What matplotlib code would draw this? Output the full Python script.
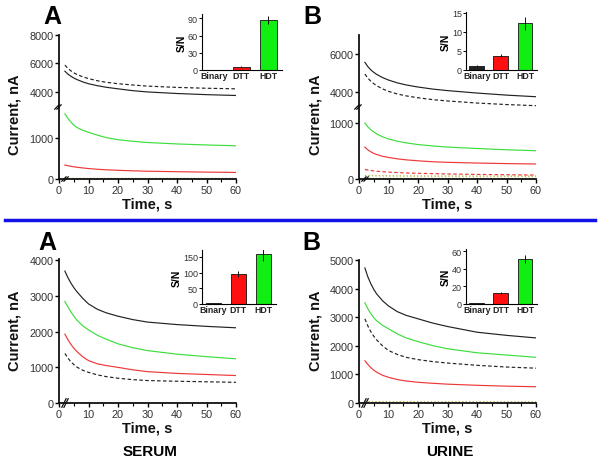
import numpy as np
import matplotlib.pyplot as plt
from matplotlib.lines import Line2D

plt.rcParams['font.family'] = ['Liberation Sans', 'DejaVu Sans']

# time axis (s)
t = [2, 3, 4, 5, 6, 8, 10, 13, 16, 20, 25, 30, 40, 50, 60]

# top A
ta_dash = [5880, 5650, 5480, 5340, 5230, 5060, 4930, 4780, 4670, 4570, 4480, 4400, 4310, 4250, 4210]
ta_black = [5450, 5250, 5100, 4970, 4870, 4700, 4570, 4430, 4320, 4210, 4080, 3990, 3880, 3800, 3740]
ta_green = [1590, 1480, 1390, 1317, 1260, 1190, 1139, 1070, 1010, 958, 920, 890, 855, 830, 810]
ta_red = [340, 325, 310, 298, 288, 270, 255, 238, 225, 212, 200, 190, 178, 168, 160]
ta_base = [15] * 15

# top B
tb_black = [5560, 5330, 5160, 5030, 4920, 4750, 4620, 4470, 4360, 4250, 4140, 4060, 3930, 3820, 3735]
tb_dash = [4940, 4720, 4560, 4430, 4320, 4150, 4020, 3880, 3780, 3680, 3580, 3510, 3400, 3320, 3260]
tb_green = [1000, 930, 880, 840, 805, 755, 715, 675, 645, 615, 590, 570, 545, 522, 505]
tb_red = [570, 520, 485, 458, 437, 405, 385, 360, 342, 325, 308, 298, 285, 275, 268]
tb_red_dash = [170, 160, 152, 145, 139, 130, 123, 115, 108, 102, 96, 90, 82, 76, 70]
tb_base = [60, 60, 59, 59, 58, 57, 56, 55, 54, 53, 52, 52, 51, 50, 50]

# serum
sa_black = [3700, 3520, 3370, 3240, 3130, 2940, 2780, 2630, 2530, 2435, 2340, 2270, 2200, 2150, 2110]
sa_green = [2850, 2700, 2560, 2440, 2330, 2170, 2050, 1900, 1790, 1660, 1550, 1470, 1370, 1300, 1240]
sa_red = [1930, 1780, 1650, 1540, 1450, 1300, 1190, 1100, 1050, 1000, 930, 880, 830, 800, 770]
sa_dash = [1390, 1260, 1160, 1080, 1010, 920, 860, 790, 740, 695, 655, 630, 610, 595, 580]
sa_base = [12] * 15

# urine
ub_black = [4730, 4420, 4180, 3980, 3820, 3580, 3400, 3200, 3070, 2950, 2800, 2680, 2480, 2370, 2280]
ub_green = [3510, 3300, 3130, 2990, 2880, 2720, 2600, 2420, 2280, 2150, 2010, 1900, 1760, 1680, 1600]
ub_dash = [2950, 2700, 2500, 2340, 2210, 2000, 1840, 1700, 1600, 1520, 1450, 1400, 1320, 1260, 1220]
ub_red = [1480, 1350, 1240, 1150, 1080, 970, 900, 820, 770, 726, 690, 660, 620, 590, 570]
ub_base = [45, 45, 44, 44, 43, 43, 42, 42, 41, 41, 40, 40, 40, 40, 40]

# insets (S/N)
groups = ['Binary', 'DTT', 'HDT']
sn_ta = [0.5, 6, 87]
sn_ta_err = [0.3, 1, 7]
sn_tb = [1.0, 3.8, 12.3]
sn_tb_err = [0.3, 0.5, 1.7]
sn_sa = [2, 95, 158]
sn_sa_err = [1, 10, 20]
sn_ub = [1, 12.5, 51]
sn_ub_err = [0.3, 1.5, 5]

BLACK = '#222222'
GREEN = '#3ddd3d'
RED = '#ee3838'
OLIVE = '#b8b040'
TXT = '#333333'
W, H = 600, 464
LW = 0.85


def fr(x0, y0, x1, y1):
    # pixel box -> figure fraction rect
    return [x0 / W, 1 - y1 / H, (x1 - x0) / W, (y1 - y0) / H]


def style(ax, xaxis=True):
    for s in ['top', 'right']:
        ax.spines[s].set_visible(False)
    for s in ['left', 'bottom']:
        ax.spines[s].set_linewidth(1.3)
        ax.spines[s].set_color('#111111')
    ax.tick_params(axis='y', direction='out', length=3, width=1, labelsize=7.8,
                   labelcolor=TXT, pad=1)
    ax.set_xlim(0, 60)
    if xaxis:
        ax.set_xticks(range(0, 61, 10))
        ax.set_xticks(range(5, 61, 10), minor=True)
        ax.tick_params(axis='x', which='major', direction='out', length=3, width=1,
                       labelsize=7.8, labelcolor=TXT, pad=1.5)
        ax.tick_params(axis='x', which='minor', direction='out', length=2, width=0.8)
    else:
        ax.spines['bottom'].set_visible(False)
        ax.set_xticks([])
    ax.patch.set_alpha(0)


def brk(ax, x, y):
    d = 0.012
    for dx in (-0.012, 0.0):
        ax.plot([x + dx - d, x + dx + d], [y - 0.03, y + 0.03], transform=ax.transAxes,
                color='#111111', lw=0.9, clip_on=False)


def inset(rect, vals, errs, ylim, ticks):
    ax = fig.add_axes(rect)
    x = np.arange(3)
    ax.bar(x, vals, width=0.62, color=[BLACK, '#ff1010', '#11ee11'],
           edgecolor='#111111', linewidth=0.6, yerr=errs,
           error_kw=dict(ecolor='#111111', elinewidth=0.7, capsize=0))
    for s in ['top', 'right']:
        ax.spines[s].set_visible(False)
    for s in ['left', 'bottom']:
        ax.spines[s].set_linewidth(0.8)
    ax.set_xlim(-0.45, 2.5)
    ax.set_ylim(*ylim)
    ax.set_yticks(ticks)
    ax.set_xticks(x)
    ax.set_xticklabels(groups, fontsize=6.3, fontweight='bold', color='#222222')
    ax.tick_params(axis='x', length=0, pad=1)
    ax.tick_params(axis='y', direction='out', length=2, width=0.7, labelsize=6.5,
                   labelcolor=TXT, pad=1)
    ax.set_ylabel('S/N', fontsize=7.5, fontweight='bold', labelpad=1)
    ax.patch.set_alpha(0)
    return ax


fig = plt.figure(figsize=(6, 4.64), dpi=100)

# ---- top A (broken axis) ----
axu = fig.add_axes(fr(59, 36, 236, 108))
axl = fig.add_axes(fr(59, 108, 236, 180))
axu.plot(t, ta_dash, color=BLACK, lw=LW, ls=(0, (3, 2)))
axu.plot(t, ta_black, color=BLACK, lw=LW)
axl.plot(t, ta_green, color=GREEN, lw=LW)
axl.plot(t, ta_red, color=RED, lw=LW)
axl.plot(t, ta_base, color=OLIVE, lw=1.0, ls=(0, (1, 1.5)))
axl.plot(t, [5] * len(t), color=BLACK, lw=0.8, ls=(0, (3, 2)))
axu.set_ylim(2930, 8000)
axu.set_yticks([4000, 6000, 8000])
axl.set_ylim(0, 1756)
axl.set_yticks([0, 1000])
style(axu, xaxis=False)
style(axl)
brk(axl, 0, 1.0)
brk(axl, 0.04, 0)

# ---- top B ----
bxu = fig.add_axes(fr(359, 36, 536, 108))
bxl = fig.add_axes(fr(359, 108, 536, 180))
bxu.plot(t, tb_black, color=BLACK, lw=LW)
bxu.plot(t, tb_dash, color=BLACK, lw=LW, ls=(0, (3, 2)))
bxl.plot(t, tb_green, color=GREEN, lw=LW)
bxl.plot(t, tb_red, color=RED, lw=LW)
bxl.plot(t, tb_red_dash, color=RED, lw=LW, ls=(0, (3, 2)))
bxl.plot(t, tb_base, color=OLIVE, lw=1.0, ls=(0, (1, 1.5)))
bxl.plot(t, [12] * len(t), color=GREEN, lw=1.0, ls=(0, (1, 1.5)))
bxu.set_ylim(3190, 7010)
bxu.set_yticks([4000, 6000])
bxl.set_ylim(0, 1286)
bxl.set_yticks([0, 1000])
style(bxu, xaxis=False)
style(bxl)
brk(bxl, 0, 1.0)
brk(bxl, 0.04, 0)

# ---- serum A ----
sx = fig.add_axes(fr(59, 260, 236, 404))
sx.plot(t, sa_black, color=BLACK, lw=LW)
sx.plot(t, sa_green, color=GREEN, lw=LW)
sx.plot(t, sa_red, color=RED, lw=LW)
sx.plot(t, sa_dash, color=BLACK, lw=LW, ls=(0, (3, 2)))
sx.plot(t, sa_base, color=GREEN, lw=1.0, ls=(0, (2, 1.5)))
sx.set_ylim(0, 4040)
sx.set_yticks(range(0, 4001, 1000))
style(sx)
brk(sx, 0.04, 0)

# ---- urine B ----
ux = fig.add_axes(fr(359, 261, 536, 404))
ux.plot(t, ub_black, color=BLACK, lw=LW)
ux.plot(t, ub_green, color=GREEN, lw=LW)
ux.plot(t, ub_dash, color=BLACK, lw=LW, ls=(0, (3, 2)))
ux.plot(t, ub_red, color=RED, lw=LW)
ux.plot(t, ub_base, color=OLIVE, lw=1.0, ls=(0, (1, 1.5)))
ux.plot(t, [12] * len(t), color=BLACK, lw=0.8, ls=(0, (3, 2)))
ux.set_ylim(0, 5010)
ux.set_yticks(range(0, 5001, 1000))
style(ux)
brk(ux, 0.04, 0)

# insets
inset(fr(202, 15, 282, 71), sn_ta, sn_ta_err, (0, 97.5), [0, 30, 60, 90])
inset(fr(466, 13, 537, 71), sn_tb, sn_tb_err, (0, 15.2), [0, 5, 10, 15])
inset(fr(202, 251, 276, 305), sn_sa, sn_sa_err, (0, 172), [0, 50, 100, 150])
inset(fr(466, 250, 537, 305), sn_ub, sn_ub_err, (0, 62.4), [0, 20, 40, 60])

# labels
lab = dict(fontsize=10.5, fontweight='bold', ha='center', va='center', color='#111111')
for x0, yc in [(15, 115), (315, 115), (15, 331), (315, 331)]:
    fig.text(x0 / W, 1 - yc / H, 'Current, nA', rotation=90, **lab)
for xc, yc in [(147, 205), (447, 205), (147, 429), (447, 429)]:
    fig.text(xc / W, 1 - yc / H, 'Time, s', **lab)
for xc, yc, s in [(52, 17, 'A'), (312, 17, 'B'), (47, 243, 'A'), (311, 243, 'B')]:
    fig.text(xc / W, 1 - yc / H, s, fontsize=18, fontweight='bold', ha='center', va='center')
fig.text(150 / W, 1 - 452 / H, 'SERUM', fontsize=11, fontweight='bold', ha='center', va='center')
fig.text(450 / W, 1 - 452 / H, 'URINE', fontsize=11, fontweight='bold', ha='center', va='center')

fig.add_artist(Line2D([5 / W, 595 / W], [1 - 221 / H] * 2, color='#1212e6', lw=2.5))

fig.savefig('out.png', dpi=100)
